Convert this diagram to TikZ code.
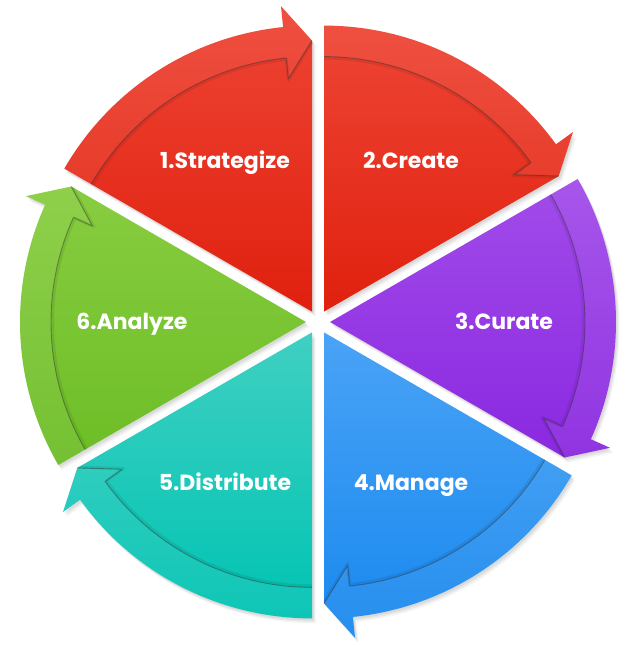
\documentclass[tikz,border=0pt]{standalone}
\usepackage{fontspec}
\newfontfamily\lblfont{Poppins}
\tikzset{
  lbl/.style={text=white, inner sep=0pt, font=\lblfont\bfseries\fontsize{22}{22}\selectfont, text height=15.5pt, text depth=0pt},
  bandline/.style={black!80, opacity=0.45, line width=0.9pt, line join=round},
  bandshade/.style={black, opacity=0.08, line width=3pt, line join=round},
}
\newcommand\shapepath{(0,0) -- (\s:271) arc[start angle=\s,end angle=\e,radius=271] -- cycle
  (\s:286) arc[start angle=\s,end angle=\a,radius=286] -- (\a:307) -- (\e:271) -- (\a:234) -- (\a:255) arc[start angle=\a,end angle=\s,radius=255] -- cycle}
\newcommand\bandpath{(\s:286) arc[start angle=\s,end angle=\a,radius=286] -- (\a:307) -- (\e:271) -- (\a:234) -- (\a:255) arc[start angle=\a,end angle=\s,radius=255] -- cycle}
\begin{document}
\begin{tikzpicture}[x=1pt,y=1pt]
\useasboundingbox[fill=white] (-318,-323) rectangle (315,322);
\foreach \b/\ct/\cb in {120/EE4535/E0200E, 60/EE4535/E0200E, 0/A24CEA/8A28E0, -60/4AA3F6/1888EE, -120/40D0C2/00C3B2, 180/88CD40/6CBD26}{
  \pgfmathsetmacro\s{\b+30}
  \pgfmathsetmacro\e{\b-30}
  \pgfmathsetmacro\a{\e+5.8}
  \definecolor{ctop}{HTML}{\ct}
  \definecolor{cbot}{HTML}{\cb}
  \begin{scope}[shift={(\b:12)}]
    \foreach \dx/\dy/\op in {3.5/-5/0.04, 2.5/-3.5/0.05, 1.5/-2/0.06}{
      \fill[black, opacity=\op, shift={(\dx,\dy)}] \shapepath;
    }
    \shade[top color=ctop, bottom color=cbot] \shapepath;
    \fill[white, opacity=0.06] \bandpath;
    \draw[bandshade] (\s:253.5) arc[start angle=\s,end angle=\a,radius=253.5] -- (\a:232.5) -- (\e:269.5);
    \draw[bandline] (\s:255) arc[start angle=\s,end angle=\a,radius=255] -- (\a:234) -- (\e:271);
  \end{scope}
}
\node[lbl] (l1) at (120:186) {1.Strategize};
\node[lbl] (l2) at (60:186) {2.Create};
\node[lbl] (l3) at (0:186) {3.Curate};
\node[lbl] (l4) at (-60:186) {4.Manage};
\node[lbl] (l5) at (-120:186) {5.Distribute};
\node[lbl] (l6) at (180:186) {6.Analyze};
\end{tikzpicture}
\end{document}
